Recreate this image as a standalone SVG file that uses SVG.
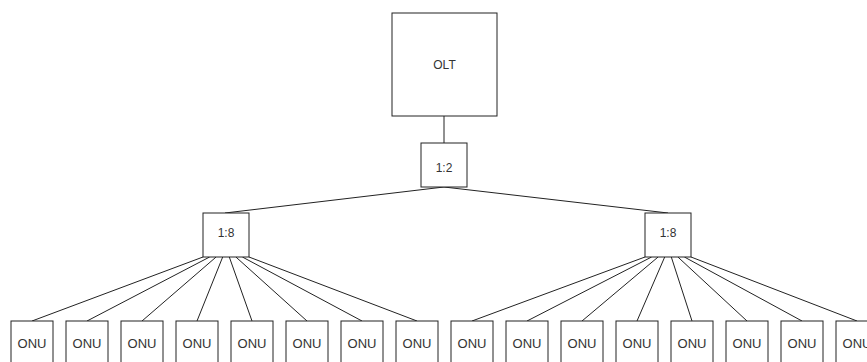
<svg xmlns="http://www.w3.org/2000/svg" width="867" height="362" viewBox="0 0 867 362">
<style>
rect{fill:#fff;stroke:#222;stroke-width:1}
line{stroke:#222;stroke-width:1}
text{font-family:"Liberation Sans",Arial,sans-serif;font-size:12px;fill:#333;text-anchor:middle}
.onu text{font-size:13px}
</style>
<rect x="0" y="0" width="867" height="362" style="stroke:none"/>
<g id="connectors">
<line x1="444" y1="116" x2="444" y2="143"/>
<line x1="444" y1="187" x2="225" y2="213"/>
<line x1="444" y1="187" x2="668" y2="213"/>
<line x1="203" y1="257" x2="32" y2="321"/>
<line x1="209.6" y1="257" x2="87" y2="321"/>
<line x1="216.1" y1="257" x2="142" y2="321"/>
<line x1="222.7" y1="257" x2="197" y2="321"/>
<line x1="229.3" y1="257" x2="252" y2="321"/>
<line x1="235.9" y1="257" x2="307" y2="321"/>
<line x1="242.4" y1="257" x2="362" y2="321"/>
<line x1="249" y1="257" x2="417" y2="321"/>
<line x1="645" y1="257" x2="472" y2="321"/>
<line x1="651.6" y1="257" x2="527" y2="321"/>
<line x1="658.1" y1="257" x2="582" y2="321"/>
<line x1="664.7" y1="257" x2="637" y2="321"/>
<line x1="671.3" y1="257" x2="692" y2="321"/>
<line x1="677.9" y1="257" x2="747" y2="321"/>
<line x1="684.4" y1="257" x2="802" y2="321"/>
<line x1="691" y1="257" x2="857" y2="321"/>
</g>
<g id="olt"><rect x="392" y="13" width="105" height="103"/><text x="444.5" y="69">OLT</text></g>
<g id="split12"><rect x="421" y="143" width="46" height="44"/><text x="444" y="172">1:2</text></g>
<g id="split8a"><rect x="203" y="213" width="46" height="44"/><text x="226" y="237">1:8</text></g>
<g id="split8b"><rect x="645" y="213" width="46" height="44"/><text x="668" y="237">1:8</text></g>
<g class="onu" id="onu1"><rect x="11" y="321" width="42" height="50"/><text x="32" y="348">ONU</text></g>
<g class="onu" id="onu2"><rect x="66" y="321" width="42" height="50"/><text x="87" y="348">ONU</text></g>
<g class="onu" id="onu3"><rect x="121" y="321" width="42" height="50"/><text x="142" y="348">ONU</text></g>
<g class="onu" id="onu4"><rect x="176" y="321" width="42" height="50"/><text x="197" y="348">ONU</text></g>
<g class="onu" id="onu5"><rect x="231" y="321" width="42" height="50"/><text x="252" y="348">ONU</text></g>
<g class="onu" id="onu6"><rect x="286" y="321" width="42" height="50"/><text x="307" y="348">ONU</text></g>
<g class="onu" id="onu7"><rect x="341" y="321" width="42" height="50"/><text x="362" y="348">ONU</text></g>
<g class="onu" id="onu8"><rect x="396" y="321" width="42" height="50"/><text x="417" y="348">ONU</text></g>
<g class="onu" id="onu9"><rect x="451" y="321" width="42" height="50"/><text x="472" y="348">ONU</text></g>
<g class="onu" id="onu10"><rect x="506" y="321" width="42" height="50"/><text x="527" y="348">ONU</text></g>
<g class="onu" id="onu11"><rect x="561" y="321" width="42" height="50"/><text x="582" y="348">ONU</text></g>
<g class="onu" id="onu12"><rect x="616" y="321" width="42" height="50"/><text x="637" y="348">ONU</text></g>
<g class="onu" id="onu13"><rect x="671" y="321" width="42" height="50"/><text x="692" y="348">ONU</text></g>
<g class="onu" id="onu14"><rect x="726" y="321" width="42" height="50"/><text x="747" y="348">ONU</text></g>
<g class="onu" id="onu15"><rect x="781" y="321" width="42" height="50"/><text x="802" y="348">ONU</text></g>
<g class="onu" id="onu16"><rect x="836" y="321" width="42" height="50"/><text x="857" y="348">ONU</text></g>
</svg>
